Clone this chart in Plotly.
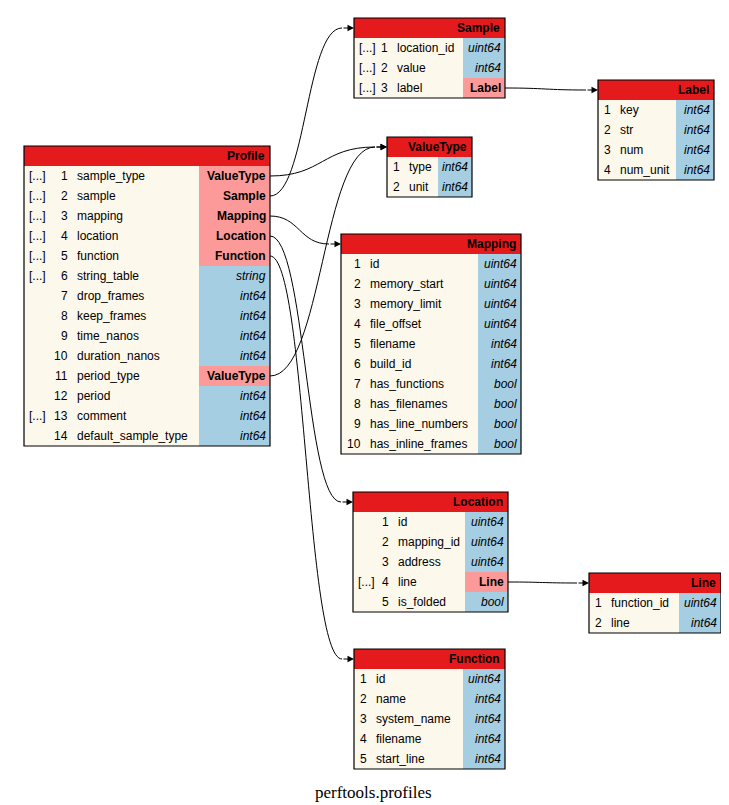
import plotly.graph_objects as go

# message fields: (name, type, repeated)
profile_names = ["sample_type", "sample", "mapping", "location", "function", "string_table",
                 "drop_frames", "keep_frames", "time_nanos", "duration_nanos", "period_type",
                 "period", "comment", "default_sample_type"]
profile_types = ["ValueType", "Sample", "Mapping", "Location", "Function", "string",
                 "int64", "int64", "int64", "int64", "ValueType", "int64", "int64", "int64"]
profile_rep = [1, 1, 1, 1, 1, 1, 0, 0, 0, 0, 0, 0, 1, 0]

sample_names = ["location_id", "value", "label"]
sample_types = ["uint64", "int64", "Label"]
sample_rep = [1, 1, 1]

label_names = ["key", "str", "num", "num_unit"]
label_types = ["int64", "int64", "int64", "int64"]
label_rep = [0, 0, 0, 0]

valuetype_names = ["type", "unit"]
valuetype_types = ["int64", "int64"]
valuetype_rep = [0, 0]

mapping_names = ["id", "memory_start", "memory_limit", "file_offset", "filename", "build_id",
                 "has_functions", "has_filenames", "has_line_numbers", "has_inline_frames"]
mapping_types = ["uint64", "uint64", "uint64", "uint64", "int64", "int64",
                 "bool", "bool", "bool", "bool"]
mapping_rep = [0] * 10

location_names = ["id", "mapping_id", "address", "line", "is_folded"]
location_types = ["uint64", "uint64", "uint64", "Line", "bool"]
location_rep = [0, 0, 0, 1, 0]

line_names = ["function_id", "line"]
line_types = ["uint64", "int64"]
line_rep = [0, 0]

function_names = ["id", "name", "system_name", "filename", "start_line"]
function_types = ["uint64", "int64", "int64", "int64", "int64"]
function_rep = [0] * 5

messages = {
    "Profile": (profile_names, profile_types, profile_rep),
    "Sample": (sample_names, sample_types, sample_rep),
    "Label": (label_names, label_types, label_rep),
    "ValueType": (valuetype_names, valuetype_types, valuetype_rep),
    "Mapping": (mapping_names, mapping_types, mapping_rep),
    "Location": (location_names, location_types, location_rep),
    "Line": (line_names, line_types, line_rep),
    "Function": (function_names, function_types, function_rep),
}

# edges: (from message, field index, to message)
edges = [("Profile", 0, "ValueType"), ("Profile", 1, "Sample"), ("Profile", 2, "Mapping"),
         ("Profile", 3, "Location"), ("Profile", 4, "Function"), ("Profile", 10, "ValueType"),
         ("Sample", 2, "Label"), ("Location", 3, "Line")]

# layout in pixels: x0, x1, header top, type column x, number right offset
boxes = {
    "Profile": (16, 262, 138, 191, 46),
    "Sample": (346, 497, 10, 455, 36),
    "Label": (590, 706, 72, 668, 15),
    "ValueType": (379, 464, 129, 430, 15),
    "Mapping": (333, 513, 226, 470, 22),
    "Location": (345, 500, 484, 457, 38),
    "Line": (581, 713, 565, 671, 15),
    "Function": (346, 497, 641, 455, 15),
}
ROW = 20
RED, CREAM, PINK, BLUE = "#e41a1c", "#fdf8ec", "#fb9a99", "#a6cee3"
FONT = "Liberation Sans"

fig = go.Figure()
shapes, annos = [], []

for msg, (names, types, rep) in messages.items():
    x0, x1, top, tx, noff = boxes[msg]
    bottom = top + ROW * (len(names) + 1)
    shapes.append(dict(type="rect", x0=x0, x1=x1, y0=top, y1=bottom, fillcolor=CREAM,
                       line=dict(width=0), layer="below"))
    shapes.append(dict(type="rect", x0=x0, x1=x1, y0=top, y1=top + ROW, fillcolor=RED,
                       line=dict(width=0), layer="below"))
    annos.append(dict(x=x1 - 3, y=top + ROW / 2, text="<b>%s</b>" % msg, xanchor="right",
                      showarrow=False, font=dict(size=12, color="black")))
    for i, (n, t, r) in enumerate(zip(names, types, rep)):
        yc = top + ROW * (i + 1.5)
        is_msg = t in messages
        shapes.append(dict(type="rect", x0=tx, x1=x1, y0=top + ROW * (i + 1),
                           y1=top + ROW * (i + 2), fillcolor=PINK if is_msg else BLUE,
                           line=dict(width=0), layer="below"))
        if r:
            annos.append(dict(x=x0 + 3, y=yc, text="[...]", xanchor="left", showarrow=False))
        annos.append(dict(x=x0 + noff, y=yc, text=str(i + 1), xanchor="right", showarrow=False))
        annos.append(dict(x=x0 + noff + 5, y=yc, text=n, xanchor="left", showarrow=False))
        annos.append(dict(x=x1 - 2, y=yc, text=("<b>%s</b>" % t) if is_msg else ("<i>%s</i>" % t),
                          xanchor="right", showarrow=False))
    shapes.append(dict(type="rect", x0=x0, x1=x1, y0=top, y1=bottom,
                       line=dict(color="black", width=1.2)))

for src, idx, dst in edges:
    sx0, sx1, stop, _, _ = boxes[src]
    dx0, _, dtop, _, _ = boxes[dst]
    xs, ys = sx1, stop + ROW * (idx + 1.5)
    xe, ye = dx0, dtop + ROW / 2
    xa = xe - 12
    d = max(xa - xs, 30)
    path = "M %f,%f C %f,%f %f,%f %f,%f" % (xs, ys, xs + d * 0.5, ys, xa - d * 0.5, ye, xa, ye)
    shapes.append(dict(type="path", path=path, line=dict(color="black", width=1)))
    annos.append(dict(x=xe, y=ye, ax=xa, ay=ye, axref="x", ayref="y", text="", showarrow=True,
                      arrowhead=2, arrowsize=1.3, arrowwidth=1, arrowcolor="black"))

annos.append(dict(x=365, y=784, text="perftools.profiles", showarrow=False,
                  font=dict(family="Liberation Serif", size=17, color="black")))

fig.update_layout(
    width=729, height=805, margin=dict(l=0, r=0, t=0, b=0),
    paper_bgcolor="white", plot_bgcolor="white",
    font=dict(family=FONT, size=12, color="black"),
    xaxis=dict(range=[0, 729], visible=False),
    yaxis=dict(range=[805, 0], visible=False),
    shapes=shapes, annotations=annos, showlegend=False,
)
fig.write_html("out.html")
